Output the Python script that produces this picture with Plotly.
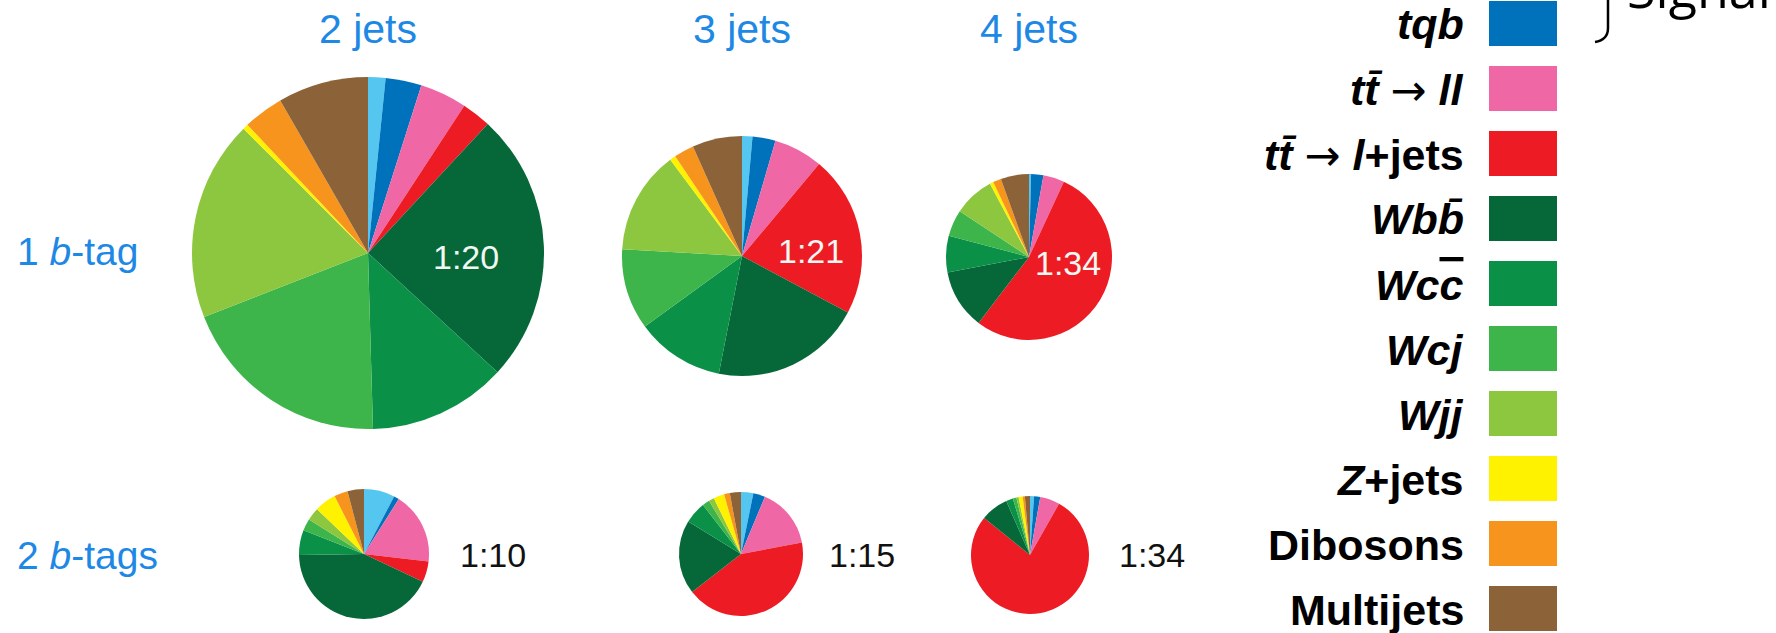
import plotly.graph_objects as go

W, H = 1776, 633

# ---------------- data ----------------
categories = ["tb̄+Wt", "tqb", "tt̄→ll", "tt̄→l+jets", "Wbb̄", "Wcc̄", "Wcj", "Wjj",
              "Z+jets", "Dibosons", "Multijets"]
colors = ["#55C6F0", "#0072BC", "#F067A6", "#ED1C24", "#066839", "#0A9047",
          "#3DB54A", "#8DC63F", "#FFF200", "#F7941D", "#8C6239"]

# percent composition per channel
onetag_2jets = [1.6, 3.3, 4.3, 2.7, 24.9, 12.7, 19.5, 18.4, 0.5, 3.7, 8.3]
onetag_3jets = [1.4, 3.1, 6.6, 21.7, 20.3, 11.9, 10.9, 13.9, 0.8, 2.7, 6.7]
onetag_4jets = [0.4, 2.4, 4.1, 53.5, 11.6, 7.1, 5.2, 7.9, 0.7, 1.6, 5.5]
twotag_2jets = [7.7, 1.3, 17.9, 5.2, 42.8, 6.2, 3.0, 3.2, 5.4, 3.4, 4.1]
twotag_3jets = [3.2, 3.1, 15.7, 42.4, 19.3, 5.7, 1.9, 1.4, 2.8, 1.5, 2.9]
twotag_4jets = [1.1, 1.7, 5.4, 77.6, 7.6, 1.9, 1.0, 0.6, 1.1, 0.6, 1.4]

ratios_1tag = ["1:20", "1:21", "1:34"]
ratios_2tag = ["1:10", "1:15", "1:34"]
jet_labels = ["2 jets", "3 jets", "4 jets"]
tag_labels = ["1 <i>b</i>-tag", "2 <i>b</i>-tags"]

ARROW = '<span style="font-family:DejaVu Sans;font-weight:normal">\u2192</span>'
OVL = '<span style="text-decoration:overline">{}</span>'
legend_labels = [
    "<b><i>tqb</i></b>",
    "<b><i>tt\u0304</i> " + ARROW + " <i>ll</i></b>",
    "<b><i>tt\u0304</i> " + ARROW + " <i>l</i>+jets</b>",
    "<b><i>Wbb\u0304</i></b>",
    "<b><i>Wc" + OVL.format("c") + "</i></b>",
    "<b><i>Wcj</i></b>",
    "<b><i>Wjj</i></b>",
    "<b><i>Z</i>+jets</b>",
    "<b>Dibosons</b>",
    "<b>Multijets</b>",
]
legend_colors = colors[1:]

# ---------------- layout geometry (pixels) ----------------
pies = [
    (onetag_2jets, 368, 253, 176),
    (onetag_3jets, 742, 256, 120),
    (onetag_4jets, 1029, 257, 83),
    (twotag_2jets, 364, 554, 65),
    (twotag_3jets, 741, 554, 62),
    (twotag_4jets, 1030, 555, 59),
]

def px(x):
    return x / W

def py(y):
    return 1 - y / H

FONT = "Liberation Sans, Arial, sans-serif"
BLUE = "#1E88E5"

fig = go.Figure()
for vals, cx, cy, r in pies:
    fig.add_trace(go.Pie(
        values=vals, labels=categories, sort=False, direction="clockwise",
        rotation=0, textinfo="none", showlegend=False,
        marker=dict(colors=colors, line=dict(width=0)),
        domain=dict(x=[px(cx - r), px(cx + r)], y=[py(cy + r), py(cy - r)]),
    ))

annotations = []
# column titles
for lab, (_, cx, _, _) in zip(jet_labels, pies[:3]):
    annotations.append(dict(x=px(cx), y=py(29), text=lab, showarrow=False,
                            xanchor="center", yanchor="middle",
                            font=dict(family=FONT, size=41, color=BLUE)))
# row labels
for lab, yy in zip(tag_labels, [251, 555]):
    annotations.append(dict(x=px(15), y=py(yy), text=lab, showarrow=False,
                            xanchor="left", yanchor="middle",
                            font=dict(family=FONT, size=39, color=BLUE)))
# ratio labels inside (row 1)
for lab, (x, y) in zip(ratios_1tag, [(466, 257), (811, 251), (1068, 263)]):
    annotations.append(dict(x=px(x), y=py(y), text=lab, showarrow=False,
                            xanchor="center", yanchor="middle",
                            font=dict(family=FONT, size=34, color="#F2F7F2")))
# ratio labels beside (row 2)
for lab, (x, y) in zip(ratios_2tag, [(458, 555), (827, 555), (1117, 555)]):
    annotations.append(dict(x=px(x), y=py(y), text=lab, showarrow=False,
                            xanchor="left", yanchor="middle",
                            font=dict(family=FONT, size=34, color="#111111")))

# legend
shapes = []
box_x0, box_x1 = 1489, 1557
top, step, bh = 23.5, 65, 45
for i, (lab, col) in enumerate(zip(legend_labels, legend_colors)):
    yc = top + step * i
    shapes.append(dict(type="rect", xref="paper", yref="paper",
                       x0=px(box_x0), x1=px(box_x1), y0=py(yc + bh / 2), y1=py(yc - bh / 2),
                       fillcolor=col, line=dict(width=0)))
    annotations.append(dict(x=px(1466), y=py(yc + 1), text=lab, showarrow=False,
                            xanchor="right", yanchor="middle",
                            font=dict(family=FONT, size=43, color="#000000")))

# "Signal" brace and label (cut at top)
path = "M {},{} L {},{} Q {},{} {},{}".format(
    px(1608), py(-2), px(1608), py(28), px(1608), py(40), px(1595), py(42))
shapes.append(dict(type="path", xref="paper", yref="paper", path=path,
                   line=dict(color="#000000", width=2.5)))
annotations.append(dict(x=px(1625), y=py(25), text="Signal", showarrow=False,
                        xanchor="left", yanchor="bottom",
                        font=dict(family="Open Sans, sans-serif", size=52, color="#000000")))

fig.update_layout(width=W, height=H, margin=dict(l=0, r=0, t=0, b=0),
                  paper_bgcolor="white", plot_bgcolor="white",
                  annotations=annotations, shapes=shapes)

fig.write_html("out.html")
